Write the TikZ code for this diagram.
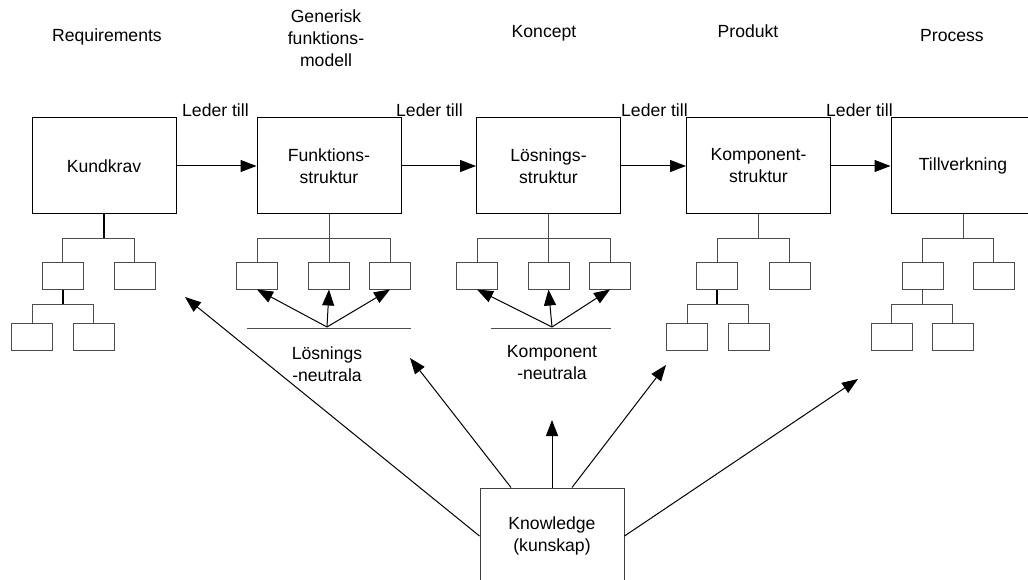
\documentclass[tikz,border=0pt]{standalone}
\usepackage{fontspec}
\setmainfont{Liberation Sans}
\usetikzlibrary{arrows.meta}
\begin{document}
\begin{tikzpicture}[x=1pt,y=-1pt,
  font=\fontsize{17.6}{22}\selectfont,
  bigbox/.style={draw=black,line width=1pt,minimum width=144pt,minimum height=96pt,align=center,inner sep=0pt},
  smallbox/.style={draw=black!70,line width=1pt,minimum width=41pt,minimum height=27pt,inner sep=0pt},
  tree/.style={draw=black!70,line width=1pt},
  stemthick/.style={draw=black,line width=2pt},
  arr/.style={draw=black,line width=1pt,-{Triangle[length=16pt,width=12pt]}},
  lbl/.style={inner sep=0pt,align=center},
]
\useasboundingbox (0,0) rectangle (1028,580);

% phase titles
\node[lbl,anchor=base] (req)  at (107,42)   {Requirements};
\node[lbl]             (gen)  at (326,38.3) {Generisk\\funktions-\\modell};
\node[lbl,anchor=base] (kon)  at (544,37.6) {Koncept};
\node[lbl,anchor=base] (prod) at (748,37.6) {Produkt};
\node[lbl,anchor=base] (proc) at (952,41.7) {Process};

% main chain
\node[bigbox] (kund) at (104,166)   {Kundkrav};
\node[bigbox] (funk) at (329,166)   {Funktions-\\struktur};
\node[bigbox] (lsg)  at (548.5,166) {Lösnings-\\struktur};
\node[bigbox] (komp) at (758.5,166) {Komponent-\\struktur};
\node[bigbox] (till) at (963,166)   {Tillverkning};

\draw[arr] (kund.east) -- (funk.west);
\draw[arr] (funk.east) -- (lsg.west);
\draw[arr] (lsg.east)  -- (komp.west);
\draw[arr] (komp.east) -- (till.west);

\node[lbl,anchor=base west] (led1) at (182,117) {Leder till};
\node[lbl,anchor=base west] (led2) at (396,117) {Leder till};
\node[lbl,anchor=base west] (led3) at (621,117) {Leder till};
\node[lbl,anchor=base west] (led4) at (826,117) {Leder till};

% tree under Kundkrav
\node[smallbox] (k1a) at (62.5,275.5)  {};
\node[smallbox] (k1b) at (134.5,275.5) {};
\node[smallbox] (k1c) at (32,337)      {};
\node[smallbox] (k1d) at (93.5,337)    {};
\draw[stemthick] (kund.south) -- ++(0,24) coordinate (j1);
\draw[tree] (k1a.north) |- (j1) -| (k1b.north);
\draw[stemthick] (k1a.south) -- ++(0,15) coordinate (j1s);
\draw[tree] (k1c.north) |- (j1s) -| (k1d.north);

% tree under Funktionsstruktur
\node[smallbox] (f1) at (257,275.5) {};
\node[smallbox] (f2) at (329,275.5) {};
\node[smallbox] (f3) at (390,275.5) {};
\draw[tree] (funk.south) -- (f2.north);
\path (funk.south) ++(0,24) coordinate (j2);
\draw[tree] (f1.north) |- (j2) -| (f3.north);
\coordinate (p2) at (327,327);
\draw[arr] (p2) -- (f1.south);
\draw[arr] (p2) -- (f2.south);
\draw[arr] (p2) -- (f3.south);
\coordinate (b2l) at (247,328);
\coordinate (b2r) at (411,328);
\draw[tree] (b2l) -- (b2r);
\node[lbl] (losn) at (327,364) {Lösnings\\-neutrala};

% tree under Lösningsstruktur
\node[smallbox] (l1) at (477,275.5)   {};
\node[smallbox] (l2) at (548.5,275.5) {};
\node[smallbox] (l3) at (610,275.5)   {};
\draw[tree] (lsg.south) -- (l2.north);
\path (lsg.south) ++(0,24) coordinate (j3);
\draw[tree] (l1.north) |- (j3) -| (l3.north);
\coordinate (p3) at (552,327);
\draw[arr] (p3) -- (l1.south);
\draw[arr] (p3) -- (l2.south);
\draw[arr] (p3) -- (l3.south);
\coordinate (b3l) at (491,328);
\coordinate (b3r) at (611,328);
\draw[tree] (b3l) -- (b3r);
\node[lbl] (kompn) at (552,363) {Komponent\\-neutrala};

% tree under Komponentstruktur
\node[smallbox] (c1) at (717,275.5)   {};
\node[smallbox] (c2) at (789.5,275.5) {};
\node[smallbox] (c3) at (687,337)     {};
\node[smallbox] (c4) at (748.5,337)   {};
\draw[tree] (komp.south) -- ++(0,24) coordinate (j4);
\draw[tree] (c1.north) |- (j4) -| (c2.north);
\draw[stemthick] (c1.south) -- ++(0,15) coordinate (j4s);
\draw[tree] (c3.north) |- (j4s) -| (c4.north);

% tree under Tillverkning
\node[smallbox] (t1) at (922.5,275.5) {};
\node[smallbox] (t2) at (993.5,275.5) {};
\node[smallbox] (t3) at (891.5,337)   {};
\node[smallbox] (t4) at (952.5,337)   {};
\draw[tree] (till.south) -- ++(0,24) coordinate (j5);
\draw[tree] (t1.north) |- (j5) -| (t2.north);
\draw[tree] (t1.south) -- ++(0,15) coordinate (j5s);
\draw[tree] (t3.north) |- (j5s) -| (t4.north);

% knowledge source
\node[bigbox,draw=black!75] (know) at (552,536) {Knowledge\\(kunskap)};
\coordinate (tA) at (185,297);
\coordinate (tB) at (410,358);
\coordinate (tC) at (552,420);
\coordinate (tD) at (666,365);
\coordinate (tE) at (858,379);
\draw[arr] (know.west) -- (tA);
\draw[arr] ([xshift=-41pt]know.north) -- (tB);
\draw[arr] (know.north) -- (tC);
\draw[arr] ([xshift=20pt]know.north) -- (tD);
\draw[arr] (know.east) -- (tE);
\end{tikzpicture}
\end{document}
